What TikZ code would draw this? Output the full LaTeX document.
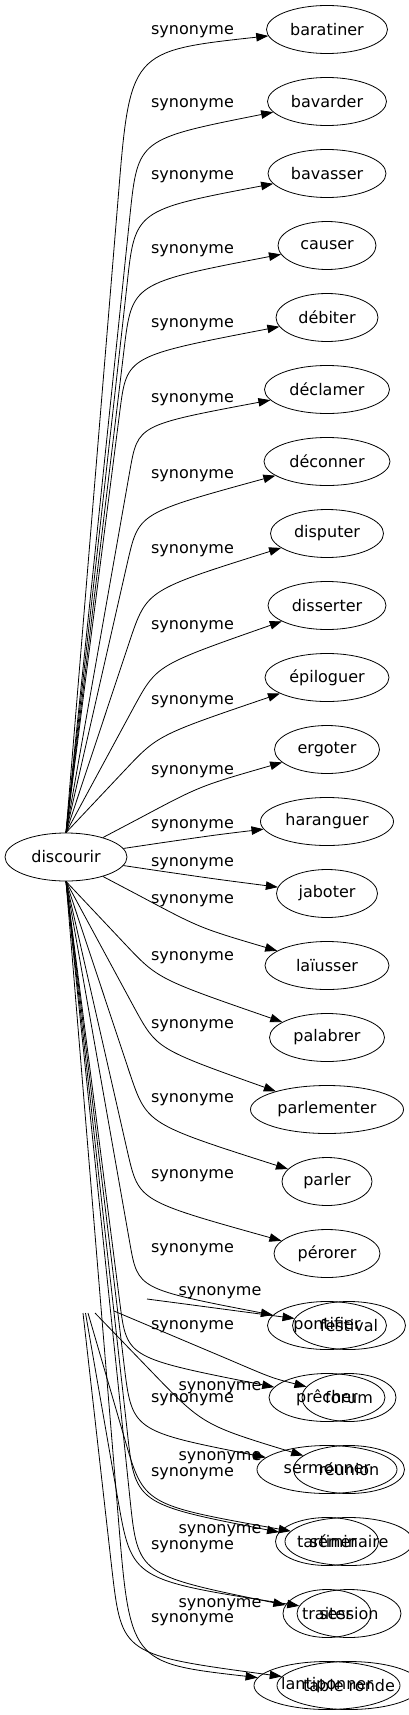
\documentclass[tikz,border=0pt]{standalone}
\usepackage{fontspec}
\setmainfont{DejaVu Sans}
\usetikzlibrary{arrows.meta,shapes}
\tikzset{
  mot/.style={draw, ellipse, inner sep=0pt, minimum height=48pt, line width=0.8pt, font=\fontsize{16}{19}\selectfont},
  syn/.style={line width=0.8pt, -{Triangle[length=12pt,width=8.5pt]}},
  lbl/.style={inner sep=0pt, font=\fontsize{16}{19}\selectfont}
}

\begin{document}
\begin{tikzpicture}[x=1pt,y=-1pt]
  \useasboundingbox (0,0) rectangle (409,1715);
  \node[mot, minimum width=122pt] (discourir) at (66,857) {discourir};
  \foreach \n/\w/\t [count=\i from 0] in {baratiner/121/baratiner, bavarder/119/bavarder, bavasser/118/bavasser, causer/98/causer, debiter/102/débiter, declamer/125/déclamer, deconner/126/déconner, disputer/113/disputer, disserter/118/disserter, epiloguer/124/épiloguer, ergoter/105/ergoter, haranguer/133/haranguer, jaboter/101/jaboter, laiusser/124/laïusser, palabrer/115/palabrer, parlementer/153/parlementer, parler/90/parler, perorer/106/pérorer, pontifier/119/pontifier, precher/116/prêcher, sermonner/140/sermonner, tartiner/103/tartiner, traiter/88/traiter, lantiponner/146/lantiponner}{
  	\node[mot, minimum width=\w pt] (\n) at (327,29.5+72*\i) {\t};
	}
  % edges: straight run from discourir, then a bend into the word
  \foreach \a/\n/\kx/\ky/\qx/\qy/\ly in {
    discourir.north/baratiner/118/200/130/51/32,
    discourir.north/bavarder/130/215/138/139/105,
    discourir.north/bavasser/127/285/135/210/177,
    discourir.north/causer/124/350/132/283/250.5,
    discourir.north/debiter/120/410/127/356/325,
    discourir.north/declamer/130/470/138/425/400,
    discourir.north/deconner/128/560/139/513/476,
    discourir.north/disputer/130/640/147/590/550.5,
    discourir.north/disserter/135/705/157/665/627,
    discourir.north/epiloguer/125/770/158/735/701.5,
    discourir/ergoter/140/818/200/786/771.5,
    discourir/haranguer/160/843/215/835/826,
    discourir/jaboter/160/871/215/879/863.5,
    discourir/laiusser/140/896/200/928/900.5,
    discourir.south/palabrer/125/944/158/979/957.5,
    discourir.south/parlementer/135/1009/157/1049/1025.5,
    discourir.south/parler/130/1074/147/1124/1099.5,
    discourir.south/perorer/128/1154/139/1201/1175.5,
    discourir.south/pontifier/130/1244/138/1289/1249.5,
    discourir.south/precher/120/1304/127/1358/1327,
    discourir.south/sermonner/124/1364/132/1431/1399.5,
    discourir.south/tartiner/127/1429/135/1504/1473.5,
    discourir.south/traiter/130/1499/138/1575/1546.5,
    discourir.south/lantiponner/118/1514/130/1663/1619.5}{
  	\draw[syn] (\a) -- (\kx,\ky) .. controls (\qx,\qy) .. (\n)
	  node[lbl] at (192.5,\ly) {synonyme};
	}
  % second graph, laid over the bottom
  \foreach \n/\w/\t [count=\i from 0] in {festival/113/festival, forum/94/forum, reunion/111/réunion, seminaire/128/séminaire, session/104/session, tableronde/144/table ronde}{
  	\node[mot, minimum width=\w pt] (\n) at (349,1325.5+72*\i) {\t};
	}
  \coordinate (sfestival) at (147,1299);
  \coordinate (sforum) at (114,1311);
  \coordinate (sreunion) at (95,1313);
  \coordinate (sseminaire) at (88,1313);
  \coordinate (ssession) at (85.5,1313);
  \coordinate (stableronde) at (83,1313);
  \draw[syn] (sfestival) -- (185,1304) .. controls (245,1312) .. (festival) node[lbl] at (220,1293) {synonyme};
  \draw[syn] (sforum) -- (230,1360) .. controls (272,1378) .. (forum) node[lbl] at (220,1387.5) {synonyme};
  \draw[syn] (sreunion) -- (150,1370) .. controls (203,1425) .. (reunion) node[lbl] at (220,1458) {synonyme};
  \draw[syn] (sseminaire) -- (125,1440) .. controls (144,1505) .. (seminaire) node[lbl] at (220,1531) {synonyme};
  \draw[syn] (ssession) -- (118,1500) .. controls (132,1580) .. (session) node[lbl] at (220,1605) {synonyme};
  \draw[syn] (stableronde) -- (112,1570) .. controls (122,1655) .. (tableronde);
\end{tikzpicture}
\end{document}
